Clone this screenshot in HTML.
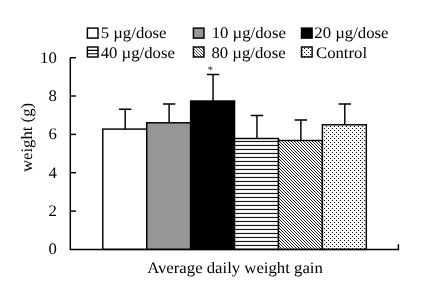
<!DOCTYPE html>
<html><head><meta charset="utf-8"><style>
html,body{margin:0;padding:0;background:#fff;}
svg{display:block;will-change:transform;}
text{text-rendering:geometricPrecision;font-family:"Liberation Serif","DejaVu Serif",serif;fill:#000}
</style></head><body>
<svg width="432" height="286" viewBox="0 0 432 286" xmlns="http://www.w3.org/2000/svg">
<defs>
<pattern id="hz" width="4" height="4" patternUnits="userSpaceOnUse" x="0" y="0.9"><rect width="4" height="4" fill="#fff"/><rect y="0" width="4" height="1.05" fill="#000"/></pattern>
<pattern id="dg" width="3" height="3" patternUnits="userSpaceOnUse"><rect width="3" height="3" fill="#fff"/><path d="M-1,-1 L4,4 M-1,2 L1,4 M2,-1 L4,1" stroke="#111" stroke-width="0.95"/></pattern>
<pattern id="dt" width="4" height="4" patternUnits="userSpaceOnUse"><rect width="4" height="4" fill="#f6f6f6"/><rect x="0" y="0" width="1" height="1" fill="#111"/><rect x="2" y="2" width="1" height="1" fill="#111"/></pattern>
<pattern id="dg2" width="3" height="3" patternUnits="userSpaceOnUse" x="1" y="0"><rect width="3" height="3" fill="#fff"/><path d="M-1,-1 L4,4 M-1,2 L1,4 M2,-1 L4,1" stroke="#222" stroke-width="0.8"/></pattern>
</defs>
<rect width="432" height="286" fill="#fff"/>

<path d="M125.2,129.1 V109.3 M119,109.3 H131.4" stroke="#000" stroke-width="1.45" fill="none"/>
<rect x="102.8" y="129.1" width="43.92" height="120.3" fill="#fff" stroke="#000" stroke-width="1.45"/>
<path d="M169.12,122.8 V104 M162.92,104 H175.32" stroke="#000" stroke-width="1.45" fill="none"/>
<rect x="146.72" y="122.8" width="43.92" height="126.6" fill="#969696" stroke="#000" stroke-width="1.45"/>
<path d="M213.04,101 V74.4 M206.84,74.4 H219.24" stroke="#000" stroke-width="1.45" fill="none"/>
<rect x="190.64" y="101" width="43.92" height="148.4" fill="#000" stroke="#000" stroke-width="1.45"/>
<path d="M256.96,138.5 V115.4 M250.76,115.4 H263.16" stroke="#000" stroke-width="1.45" fill="none"/>
<rect x="234.56" y="138.5" width="43.92" height="110.9" fill="url(#hz)" stroke="#000" stroke-width="1.45"/>
<path d="M300.88,140.5 V120 M294.68,120 H307.08" stroke="#000" stroke-width="1.45" fill="none"/>
<rect x="278.48" y="140.5" width="43.92" height="108.9" fill="url(#dg)" stroke="#000" stroke-width="1.45"/>
<path d="M344.8,124.8 V104 M338.6,104 H351.0" stroke="#000" stroke-width="1.45" fill="none"/>
<rect x="322.4" y="124.8" width="43.92" height="124.6" fill="url(#dt)" stroke="#000" stroke-width="1.45"/>
<path d="M70.3,57.5 V249.4 H398.4 V244.2" stroke="#000" stroke-width="1.45" fill="none"/>
<text transform="translate(56.8,254.2) scale(1.045,1)" font-size="16" text-anchor="end">0</text>
<path d="M70.3,211.1 H76" stroke="#000" stroke-width="1.45"/>
<text transform="translate(56.8,215.9) scale(1.045,1)" font-size="16" text-anchor="end">2</text>
<path d="M70.3,172.7 H76" stroke="#000" stroke-width="1.45"/>
<text transform="translate(56.8,177.5) scale(1.045,1)" font-size="16" text-anchor="end">4</text>
<path d="M70.3,134.4 H76" stroke="#000" stroke-width="1.45"/>
<text transform="translate(56.8,139.2) scale(1.045,1)" font-size="16" text-anchor="end">6</text>
<path d="M70.3,96.0 H76" stroke="#000" stroke-width="1.45"/>
<text transform="translate(56.8,100.8) scale(1.045,1)" font-size="16" text-anchor="end">8</text>
<path d="M70.3,57.7 H76" stroke="#000" stroke-width="1.45"/>
<text transform="translate(56.8,62.5) scale(1.045,1)" font-size="16" text-anchor="end">10</text>
<text transform="translate(210.3,73.0) scale(1.045,1)" font-size="10" text-anchor="middle">*</text>
<text transform="translate(31.6,137.5) rotate(-90) scale(1.045,1)" font-size="16" text-anchor="middle">weight (g)</text>
<text transform="translate(235,273.2) scale(1.045,1)" font-size="16" text-anchor="middle">Average daily weight gain</text>
<rect x="87.4" y="28.1" width="10.6" height="10" fill="#fff" stroke="#000" stroke-width="1.45"/>
<text transform="translate(100.7,38) scale(1.045,1)" font-size="16" text-anchor="start">5 µg/dose</text>
<rect x="193.4" y="28.1" width="10.6" height="10" fill="#969696" stroke="#000" stroke-width="1.45"/>
<text transform="translate(211.7,38) scale(1.045,1)" font-size="16" text-anchor="start">10 µg/dose</text>
<rect x="301.5" y="28.1" width="10.6" height="10" fill="#000" stroke="#000" stroke-width="1.45"/>
<text transform="translate(314.3,38) scale(1.045,1)" font-size="16" text-anchor="start">20 µg/dose</text>
<rect x="87.4" y="47.0" width="10.6" height="10" fill="#fff" stroke="#000" stroke-width="1.45"/>
<path d="M87.4,50.4 h10.8 M87.4,53.8 h10.8" stroke="#000" stroke-width="1.1"/>
<text transform="translate(100.7,58) scale(1.045,1)" font-size="16" text-anchor="start">40 µg/dose</text>
<rect x="193.4" y="47.0" width="10.6" height="10" fill="url(#dg2)" stroke="#000" stroke-width="1.45"/>
<text transform="translate(211.4,58) scale(1.045,1)" font-size="16" text-anchor="start">80 µg/dose</text>
<rect x="301.5" y="47.0" width="10.6" height="10" fill="url(#dt)" stroke="#000" stroke-width="1.45"/>
<text transform="translate(316.0,58) scale(1.045,1)" font-size="16" text-anchor="start">Control</text>
</svg></body></html>
